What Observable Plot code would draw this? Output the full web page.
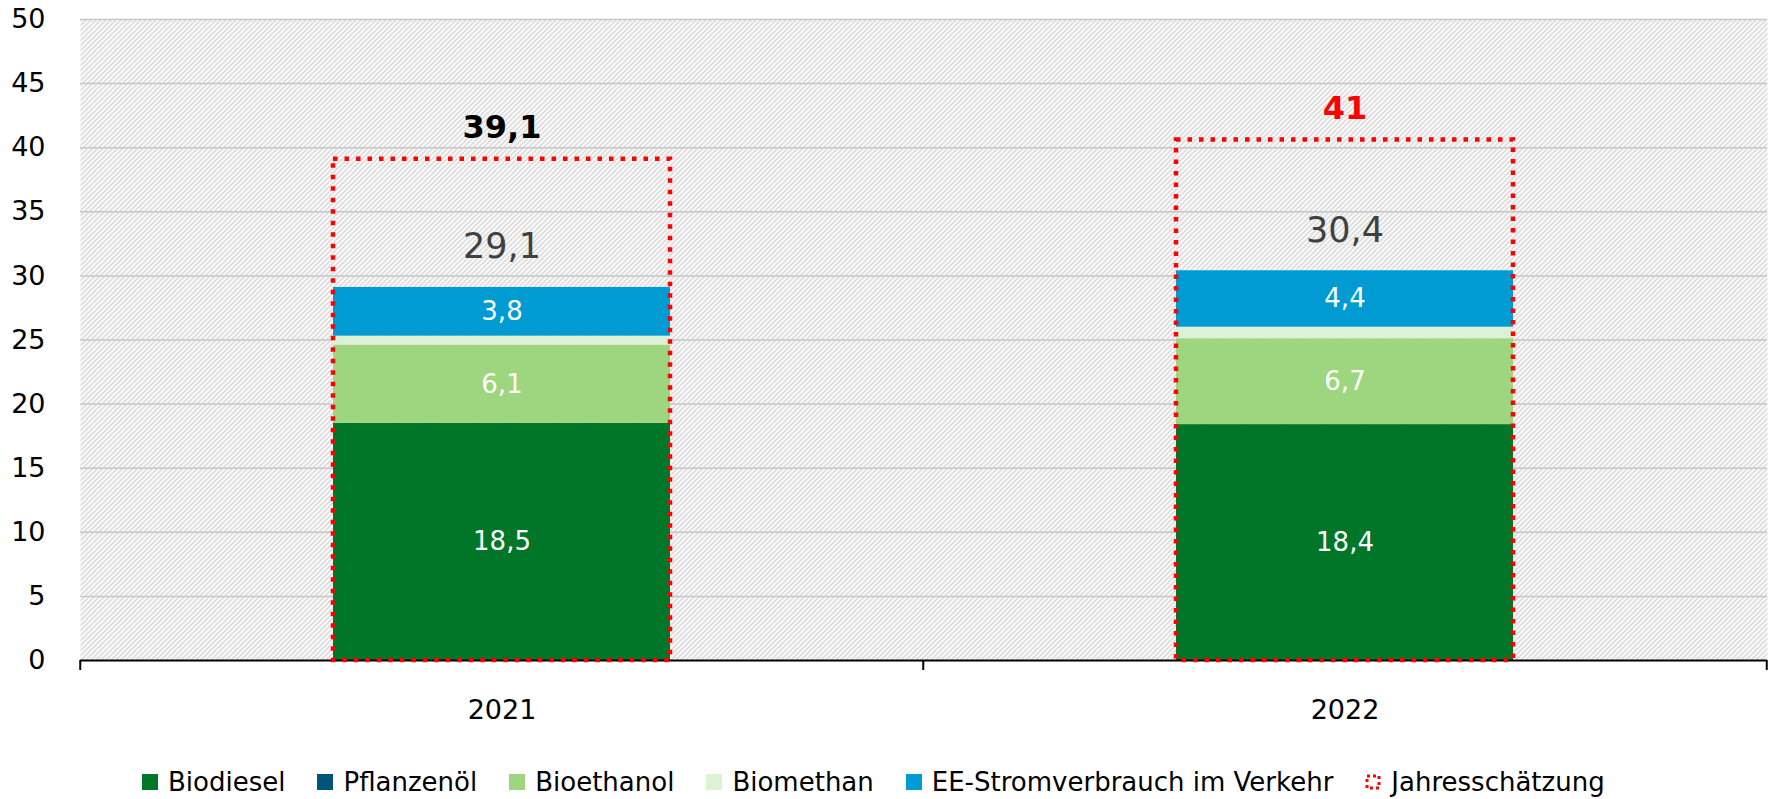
<!DOCTYPE html>
<html><head><meta charset="utf-8">
<script src="https://cdn.jsdelivr.net/npm/d3@7"></script>
<script src="https://cdn.jsdelivr.net/npm/@observablehq/plot@0.6"></script>
<style>
body{margin:0;background:#fff;font-family:"DejaVu Sans",sans-serif;}
#chart svg{display:block;}
#legend{display:flex;align-items:center;height:40px;margin-top:12px;padding-left:142px;font-size:26px;color:#000;white-space:nowrap;}
.item{display:flex;align-items:center;margin-right:32px;}
.sw{width:16px;height:16px;margin-right:10px;flex:none;}
</style></head><body><div id="chart"></div><div id="legend"></div>
<script>
const years = ["2021", "2022"];
const series = ["Biodiesel", "Pflanzenöl", "Bioethanol", "Biomethan", "EE-Stromverbrauch im Verkehr"];
const colors = ["#007629", "#005479", "#9dd67e", "#ddf1d5", "#009bd3"];
const biodiesel = [18.5, 18.4];
const pflanzenoel = [0, 0];
const bioethanol = [6.1, 6.7];
const biomethan = [0.7, 0.9];
const eeStrom = [3.8, 4.4];
const estimate = [39.1, 40.6];
const estimateLabels = ["39,1", "41"];
const estimateColors = ["#000000", "#ff0000"];
const estimateName = "Jahresschätzung";
const yTicks = [0, 5, 10, 15, 20, 25, 30, 35, 40, 45, 50];

const seriesValues = [biodiesel, pflanzenoel, bioethanol, biomethan, eeStrom];
const fmt = v => d3.format(".1f")(v).replace(".", ",");

const rows = [];
years.forEach((year, i) => {
  series.forEach((s, k) => rows.push({year, series: s, value: seriesValues[k][i]}));
});
const totals = years.map((year, i) => ({year, value: d3.sum(seriesValues, a => a[i])}));
const estRows = years.map((year, i) => ({year, value: estimate[i], label: estimateLabels[i], color: estimateColors[i]}));

const W = 1777, H = 750, ML = 80, MR = 10, MT = 19, MB = 90;
const step = (W - ML - MR) / years.length;

const chart = Plot.plot({
  width: W, height: H,
  marginLeft: ML, marginRight: MR, marginTop: MT, marginBottom: MB,
  style: {fontFamily: "DejaVu Sans, sans-serif", color: "#000", background: "#fff"},
  x: {domain: years, paddingInner: 0.6, paddingOuter: 0.3, label: null},
  y: {domain: [0, 50], label: null},
  color: {domain: series, range: colors},
  marks: [
    Plot.frame({fill: "url(#hatch)", stroke: "none"}),
    Plot.gridY(yTicks.filter(d => d > 0), {stroke: "#c6c6c6", strokeOpacity: 1, strokeWidth: 1.5}),
    Plot.barY(rows, {x: "year", y: "value", fill: "series"}),
    Plot.ruleY([0], {stroke: "#000", strokeWidth: 2}),
    Plot.ruleX(years, {x: d => d, y1: 0, y2: 0, insetBottom: -10, dx: -step / 2, stroke: "#000", strokeWidth: 2}),
    Plot.ruleX(years.slice(-1), {x: d => d, y1: 0, y2: 0, insetBottom: -10, dx: step / 2, stroke: "#000", strokeWidth: 2}),
    Plot.barY(estRows, {x: "year", y: "value", fill: "none", stroke: "#ff0000", strokeWidth: 4.5, strokeDasharray: "4.5 7"}),
    Plot.text(rows, Plot.stackY({x: "year", y: "value", z: "series", text: d => d.value >= 1 ? fmt(d.value) : "", fill: "#fff", fontSize: 26})),
    Plot.text(totals, {x: "year", y: "value", text: d => fmt(d.value), lineAnchor: "bottom", dy: -29, fill: "#404040", fontSize: 35}),
    ...estRows.map(r => Plot.text([r], {x: "year", y: "value", text: "label", lineAnchor: "bottom", dy: -21, fill: r.color, fontSize: 32, fontWeight: "bold"})),
    Plot.axisY({ticks: yTicks, tickSize: 0, tickPadding: 35, fontSize: 27, tickFormat: d => String(d), label: null}),
    Plot.axisX({tickSize: 0, tickPadding: 39, fontSize: 27, label: null})
  ]
});

d3.select(chart).insert("defs", ":first-child").html(
  '<pattern id="hatch" patternUnits="userSpaceOnUse" width="5" height="5">' +
  '<rect width="5" height="5" fill="#fff"/>' +
  '<path d="M-1,1 l2,-2 M0,5 l5,-5 M4,6 l2,-2" stroke="#cdcdcd" stroke-width="1.3"/></pattern>'
);
document.getElementById("chart").appendChild(chart);

const legend = d3.select("#legend");
series.forEach((s, k) => {
  const it = legend.append("div").attr("class", "item");
  it.append("div").attr("class", "sw").style("background", colors[k]);
  it.append("span").text(s);
});
const est = legend.append("div").attr("class", "item");
est.append("svg").attr("class", "sw").attr("width", 16).attr("height", 16)
  .append("rect").attr("x", 2).attr("y", 2).attr("width", 12).attr("height", 12)
  .attr("fill", "none").attr("stroke", "#ff0000").attr("stroke-width", 3).attr("stroke-dasharray", "3 3");
est.append("span").text(estimateName);
</script></body></html>
